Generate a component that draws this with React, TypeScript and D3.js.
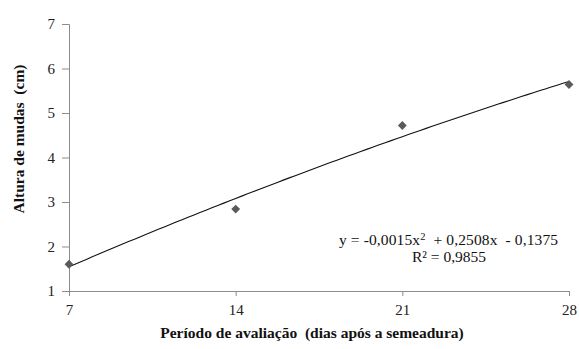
import { useRef, useEffect } from "react";
import * as d3 from "d3";

// observed seedling height (cm) per evaluation day
const days = [7, 14, 21, 28];
const heights = [1.6, 2.84, 4.72, 5.64];
const xTicks = [7, 14, 21, 28];
const yTicks = [1, 2, 3, 4, 5, 6, 7];
// fitted polynomial as printed on the chart: a x^2 + b x + c
const fitCoef = [-0.0015, 0.2508, -0.1375];

export default function App() {
  const svgRef = useRef<SVGSVGElement>(null);

  useEffect(() => {
    if (!svgRef.current) return;
    const width = 579;
    const height = 349;
    const margin = { top: 24, right: 10, bottom: 58, left: 69 };

    const svg = d3.select(svgRef.current);
    svg.selectAll("*").remove();
    svg
      .attr("width", width)
      .attr("height", height)
      .attr("viewBox", `0 0 ${width} ${height}`)
      .attr("font-family", "Liberation Serif, serif");

    const x = d3.scaleLinear().domain([7, 28]).range([margin.left, width - margin.right]);
    const y = d3.scaleLinear().domain([1, 7]).range([height - margin.bottom, margin.top]);

    const axisColor = "#8c8c8c";

    // Y axis
    const ya = svg
      .append("g")
      .attr("transform", `translate(${margin.left},0)`)
      .call(d3.axisLeft(y).tickValues(yTicks).tickSize(7).tickPadding(7).tickFormat(d3.format("d")));
    ya.attr("font-family", null).attr("font-size", null);
    ya.select(".domain").attr("stroke", axisColor);
    ya.selectAll(".tick line").attr("stroke", axisColor);
    ya.selectAll("text").attr("font-size", 15).attr("fill", "#222");

    // X axis
    const xa = svg
      .append("g")
      .attr("transform", `translate(0,${y(1)})`)
      .call(d3.axisBottom(x).tickValues(xTicks).tickSize(5).tickPadding(8).tickFormat(d3.format("d")));
    xa.attr("font-family", null).attr("font-size", null);
    xa.select(".domain").attr("stroke", axisColor);
    xa.selectAll(".tick line").attr("stroke", axisColor);
    xa.selectAll("text").attr("font-size", 15).attr("fill", "#222");

    // trend line from the printed equation
    const fit = (t: number) => fitCoef[0] * t * t + fitCoef[1] * t + fitCoef[2];
    const ts = d3.range(7, 28.01, 0.25);
    svg
      .append("path")
      .attr("d", d3.line<number>().x((t) => x(t)).y((t) => y(fit(t)))(ts) ?? "")
      .attr("fill", "none")
      .attr("stroke", "#111")
      .attr("stroke-width", 1.1);

    // observed points
    svg
      .selectAll(".pt")
      .data(days)
      .join("path")
      .attr("class", "pt")
      .attr("d", d3.symbol(d3.symbolDiamond2, 50)() ?? "")
      .attr("transform", (d, i) => `translate(${x(d)},${y(heights[i])})`)
      .attr("fill", "#5a5a5a");

    // equation
    const eq = svg
      .append("text")
      .attr("x", 339)
      .attr("y", 245)
      .attr("font-size", 15.5)
      .attr("textLength", 219)
      .attr("fill", "#111")
      .style("white-space", "pre");
    eq.append("tspan").text("y = -0,0015x");
    eq.append("tspan").attr("dy", -5).attr("font-size", 10.5).text("2");
    eq.append("tspan").attr("dy", 5).text("  + 0,2508x  - 0,1375");
    svg
      .append("text")
      .attr("x", 449)
      .attr("y", 262)
      .attr("text-anchor", "middle")
      .attr("font-size", 15.5)
      .attr("fill", "#111")
      .text("R² = 0,9855");

    // axis titles
    svg
      .append("text")
      .attr("transform", "translate(24,139) rotate(-90)")
      .attr("text-anchor", "middle")
      .attr("font-size", 15.5)
      .attr("font-weight", "bold")
      .style("white-space", "pre")
      .attr("fill", "#111")
      .text("Altura de mudas  (cm)");
    svg
      .append("text")
      .attr("x", 312)
      .attr("y", 338)
      .attr("text-anchor", "middle")
      .attr("font-size", 15.5)
      .attr("font-weight", "bold")
      .style("white-space", "pre")
      .attr("fill", "#111")
      .text("Período de avaliação  (dias após a semeadura)");
  }, []);

  return <svg ref={svgRef} style={{ position: "absolute", left: 0, top: 0, background: "#fff" }} />;
}
